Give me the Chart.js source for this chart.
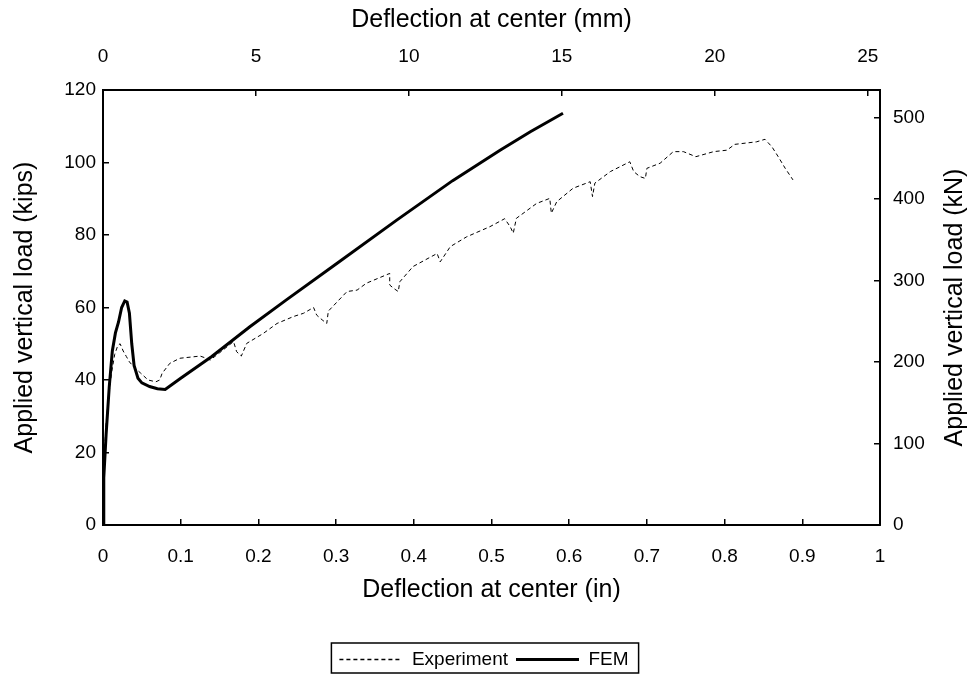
<!DOCTYPE html>
<html>
<head>
<meta charset="utf-8">
<script src="https://cdn.jsdelivr.net/npm/chart.js@4.4.0/dist/chart.umd.min.js"></script>
<style>
  html, body { margin: 0; padding: 0; background: #fff; }
</style>
</head>
<body>
<canvas id="chart" width="968" height="679"></canvas>
<script>
// experiment curve, deflection (in) vs load (kips)
const expX = [0, 0.001, 0.002, 0.004, 0.007, 0.011, 0.015, 0.019, 0.022, 0.026, 0.03, 0.034, 0.04, 0.048, 0.058, 0.068,
  0.073, 0.076, 0.086, 0.099, 0.112, 0.125, 0.133, 0.138, 0.15, 0.168, 0.172, 0.178, 0.185, 0.206, 0.224, 0.245,
  0.258, 0.271, 0.275, 0.282, 0.288, 0.29, 0.314, 0.327, 0.339, 0.369, 0.369, 0.374, 0.38, 0.382, 0.399, 0.43,
  0.434, 0.447, 0.468, 0.498, 0.517, 0.524, 0.528, 0.532, 0.558, 0.575, 0.577, 0.584, 0.605, 0.627, 0.63, 0.633,
  0.653, 0.678, 0.683, 0.691, 0.698, 0.7, 0.717, 0.734, 0.747, 0.763, 0.786, 0.803, 0.813, 0.841, 0.852, 0.861,
  0.869, 0.878, 0.888]
const expY = [0, 10, 20, 28, 35, 42, 47, 49.5, 50, 48, 46.5, 45, 43.5, 42, 40, 39.5,
  40, 41.8, 44.6, 46, 46.3, 46.6, 46, 45.5, 47.5, 50.6, 47.8, 46.6, 50.1, 52.8, 55.6, 57.5,
  58.4, 60, 57.9, 56.6, 55.6, 59, 64.4, 64.8, 66.7, 69.4, 66.2, 65.3, 64.4, 67.1, 71.3, 74.9,
  72.6, 76.8, 79.5, 82.3, 84.5, 82.3, 80.5, 84.6, 88.7, 90.1, 86, 89.2, 92.9, 94.7, 90.6, 94.3,
  97.5, 100.2, 97.5, 96.1, 95.6, 98.4, 99.8, 103, 103, 101.6, 103, 103.4, 105, 105.7, 106.4, 104.3,
  101.6, 98.4, 95.2]

// FEM curve
const femX = [0, 0.001, 0.004, 0.008, 0.012, 0.016, 0.02, 0.024, 0.028, 0.031, 0.034, 0.037, 0.04, 0.045,
  0.05, 0.06, 0.07, 0.08, 0.1, 0.14, 0.189, 0.236, 0.3, 0.378, 0.45, 0.511, 0.55, 0.592]
const femY = [0, 13, 25, 38, 48, 53, 56, 60, 61.8, 61.5, 58.4, 50, 44, 40.5,
  39.2, 38.2, 37.6, 37.4, 40.5, 46.5, 54.7, 62.1, 72, 84.1, 95, 103.4, 108.5, 113.6]

const inTicks = [0, 0.1, 0.2, 0.3, 0.4, 0.5, 0.6, 0.7, 0.8, 0.9, 1]
const kipTicks = [0, 20, 40, 60, 80, 100, 120]
const mmTicks = [0, 5, 10, 15, 20, 25]
const kNTicks = [0, 100, 200, 300, 400, 500]

const IN_TO_MM = 25.4
const KIP_TO_KN = 4.448

const FAMILY = "'Liberation Sans', Arial, sans-serif"
const tickFont = { family: FAMILY, size: 19 }
const titleFont = { family: FAMILY, size: 25 }
const grid = { display: true, drawOnChartArea: false, drawTicks: true, tickLength: -6, color: '#000', lineWidth: 1.5 }
const border = { display: true, color: '#000', width: 2 }

function setTicks(list) {
  return scale => { scale.ticks = list.map(v => ({ value: v })) }
}

// box around the legend + right axis title (reads bottom to top like the left one)
const extras = {
  id: 'extras',
  afterDraw(chart) {
    const ctx = chart.ctx
    const boxes = chart.legend.legendHitBoxes
    ctx.save()
    if (boxes && boxes.length) {
      const first = boxes[0], last = boxes[boxes.length - 1]
      ctx.strokeStyle = '#000'
      ctx.lineWidth = 1.5
      ctx.strokeRect(first.left - 8, first.top - 7, last.left + last.width - first.left + 18, first.height + 11)
    }
    const area = chart.chartArea
    ctx.translate(955, (area.top + area.bottom) / 2)
    ctx.rotate(-Math.PI / 2)
    ctx.fillStyle = '#000'
    ctx.font = '25px ' + FAMILY
    ctx.textAlign = 'center'
    ctx.textBaseline = 'middle'
    ctx.fillText('Applied vertical load (kN)', 0, 0)
    ctx.restore()
  }
}

const ctx = document.getElementById('chart').getContext('2d')
new Chart(ctx, {
  type: 'scatter',
  data: {
    datasets: [
      {
        label: 'Experiment',
        data: expX.map((x, i) => ({ x: x, y: expY[i] })),
        showLine: true,
        borderColor: '#000',
        backgroundColor: '#000',
        borderWidth: 1,
        borderDash: [4, 3],
        pointRadius: 0,
        tension: 0
      },
      {
        label: 'FEM',
        data: femX.map((x, i) => ({ x: x, y: femY[i] })),
        showLine: true,
        borderColor: '#000',
        backgroundColor: '#000',
        borderWidth: 3,
        pointRadius: 0,
        tension: 0
      }
    ]
  },
  options: {
    responsive: false,
    animation: false,
    layout: { padding: { left: 0, right: 0, top: 0, bottom: 3 } },
    plugins: {
      tooltip: { enabled: false },
      legend: {
        position: 'bottom',
        maxHeight: 34,
        labels: {
          usePointStyle: true,
          pointStyle: 'line',
          pointStyleWidth: 63,
          padding: 8,
          color: '#000',
          font: { family: FAMILY, size: 19 },
          generateLabels: chart => Chart.defaults.plugins.legend.labels.generateLabels(chart).map(item => {
            if (item.datasetIndex === 0) {
              item.lineWidth = 1.5
              item.lineDash = [4, 3]
            }
            return item
          })
        }
      }
    },
    scales: {
      x: {
        type: 'linear', position: 'bottom', min: 0, max: 1,
        afterBuildTicks: setTicks(inTicks),
        afterFit: s => { s.height = 117 },
        ticks: { font: tickFont, color: '#000', padding: 26.6, maxRotation: 0,
          callback: v => String(Math.round(v * 10) / 10) },
        grid: grid, border: border,
        title: { display: true, text: 'Deflection at center (in)', font: titleFont, color: '#000', padding: { top: 0, bottom: 37 } }
      },
      x2: {
        type: 'linear', position: 'top', min: 0, max: 1 * IN_TO_MM,
        afterBuildTicks: setTicks(mmTicks),
        afterFit: s => { s.height = 90 },
        ticks: { font: tickFont, color: '#000', padding: 27.6, maxRotation: 0 },
        grid: grid, border: border,
        title: { display: true, text: 'Deflection at center (mm)', font: titleFont, color: '#000', padding: { top: 5, bottom: 0 } }
      },
      y: {
        type: 'linear', position: 'left', min: 0, max: 120,
        afterBuildTicks: setTicks(kipTicks),
        afterFit: s => { s.width = 103 },
        ticks: { font: tickFont, color: '#000', padding: 13 },
        grid: grid, border: border,
        title: { display: true, text: 'Applied vertical load (kips)', font: titleFont, color: '#000', padding: { top: 10, bottom: 0 } }
      },
      y2: {
        type: 'linear', position: 'right', min: 0, max: 120 * KIP_TO_KN,
        afterBuildTicks: setTicks(kNTicks),
        afterFit: s => { s.width = 88 },
        ticks: { font: tickFont, color: '#000', padding: 19 },
        grid: grid, border: border,
        title: { display: false }
      }
    }
  },
  plugins: [extras]
})
</script>
</body>
</html>
